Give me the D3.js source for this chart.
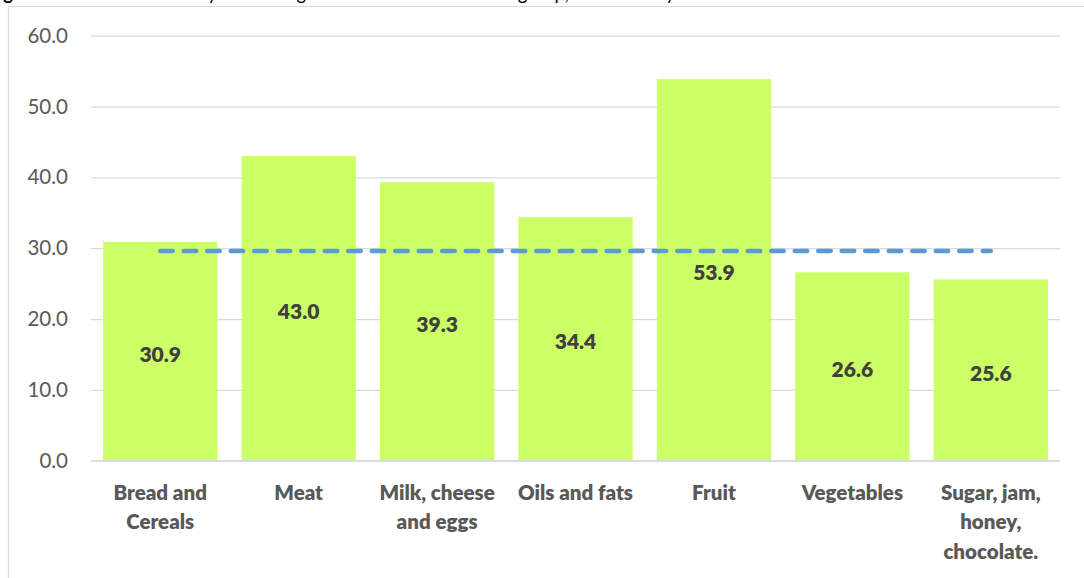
<!DOCTYPE html>
<html>
<head>
<meta charset="utf-8">
<script src="https://cdn.jsdelivr.net/npm/d3@7"></script>
<style>
  html, body { margin: 0; padding: 0; background: #ffffff; }
  svg { display: block; }
</style>
</head>
<body>
<svg id="chart" width="1084" height="578"></svg>
<script>
// Food groups (line breaks mark where each label wraps)
const categories = [
  "Bread and\nCereals",
  "Meat",
  "Milk, cheese\nand eggs",
  "Oils and fats",
  "Fruit",
  "Vegetables",
  "Sugar, jam,\nhoney,\nchocolate."
];
const values = [30.9, 43.0, 39.3, 34.4, 53.9, 26.6, 25.6];
const referenceLevel = [29.6];
const yTicks = [0, 10, 20, 30, 40, 50, 60];
const titleBold = "Figure 1:";
const titleRest = " Annual inflation by the average of all items in each food group, for the last year";

const FONT = "Lato, 'Noto Sans', sans-serif";
const svg = d3.select("#chart");
const W = 1084, H = 578;

const x = d3.scaleBand()
  .domain(categories)
  .range([91, 1060])
  .paddingInner(0.174)
  .paddingOuter(0.087);

const y = d3.scaleLinear()
  .domain([0, 60])
  .range([460.7, 35.7]);

// Chart frame
svg.append("path")
  .attr("d", `M8.5,${H} V6.5 H${W}`)
  .attr("fill", "none")
  .attr("stroke", "#d9d9d9")
  .attr("stroke-width", 1.2);

// Title (sits above the frame)
const title = svg.append("text")
  .attr("x", -12)
  .attr("y", -0.5)
  .attr("font-family", FONT)
  .attr("font-size", 18.5)
  .attr("fill", "#000");
title.append("tspan").attr("font-weight", 700).text(titleBold);
title.append("tspan").text(titleRest);

// Gridlines and value axis
const yAxis = d3.axisLeft(y)
  .tickValues(yTicks)
  .tickSize(-(1060 - 91))
  .tickPadding(23)
  .tickFormat(d3.format(".1f"));

const gy = svg.append("g")
  .attr("transform", "translate(91,0)")
  .call(yAxis);
gy.select(".domain").remove();
gy.selectAll(".tick line")
  .attr("stroke", "#d9d9d9")
  .attr("stroke-width", 1.3);
gy.selectAll(".tick text")
  .attr("font-family", FONT)
  .attr("font-size", 20.5)
  .attr("fill", "#595959");

// Bars
svg.append("g")
  .selectAll("rect")
  .data(values)
  .join("rect")
  .attr("x", (d, i) => x(categories[i]))
  .attr("width", x.bandwidth())
  .attr("y", d => y(d))
  .attr("height", d => y(0) - y(d))
  .attr("fill", "#ccff66");

// Baseline redrawn over the bars
svg.append("line")
  .attr("x1", 91).attr("x2", 1060)
  .attr("y1", y(0)).attr("y2", y(0))
  .attr("stroke", "#d9d9d9")
  .attr("stroke-width", 1.3);

// Reference level (dashed)
const first = categories[0], last = categories[categories.length - 1];
svg.append("g")
  .selectAll("line")
  .data(referenceLevel)
  .join("line")
  .attr("x1", x(first) + x.bandwidth() / 2)
  .attr("x2", x(last) + x.bandwidth() / 2)
  .attr("y1", d => y(d))
  .attr("y2", d => y(d))
  .attr("stroke", "#5b9bd5")
  .attr("stroke-width", 4.5)
  .attr("stroke-linecap", "round")
  .attr("stroke-dasharray", "12.5,11");

// Value labels centred in each bar
svg.append("g")
  .selectAll("text")
  .data(values)
  .join("text")
  .attr("x", (d, i) => x(categories[i]) + x.bandwidth() / 2)
  .attr("y", d => (y(d) + y(0)) / 2 + 2)
  .attr("text-anchor", "middle")
  .attr("dominant-baseline", "central")
  .attr("font-family", FONT)
  .attr("font-weight", 800)
  .attr("font-size", 21)
  .attr("fill", "#404040")
  .text(d => d3.format(".1f")(d));

// Category labels
const xl = svg.append("g")
  .selectAll("text")
  .data(categories)
  .join("text")
  .attr("x", d => x(d) + x.bandwidth() / 2)
  .attr("y", 499.5)
  .attr("text-anchor", "middle")
  .attr("font-family", FONT)
  .attr("font-weight", 800)
  .attr("font-size", 20.5)
  .attr("fill", "#595959");
xl.selectAll("tspan")
  .data(d => d.split("\n"))
  .join("tspan")
  .attr("x", function () { return d3.select(this.parentNode).attr("x"); })
  .attr("dy", (d, i) => i === 0 ? 0 : 29.5)
  .text(d => d);
</script>
</body>
</html>
